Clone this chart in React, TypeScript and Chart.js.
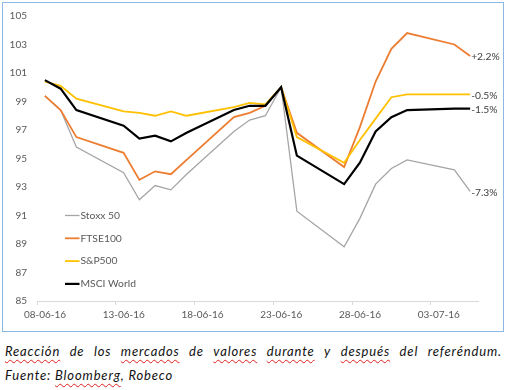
import React, { useEffect, useRef } from "react";
import { Chart, registerables } from "chart.js";

Chart.register(...registerables);

const dates = [
  "08-06-16", "09-06-16", "10-06-16", "13-06-16", "14-06-16", "15-06-16", "16-06-16",
  "17-06-16", "20-06-16", "21-06-16", "22-06-16", "23-06-16", "24-06-16", "27-06-16",
  "28-06-16", "29-06-16", "30-06-16", "01-07-16", "04-07-16", "05-07-16",
];
const seriesNames = ["Stoxx 50", "FTSE100", "S&P500", "MSCI World"];
const stoxx50 = [99.4, 98.4, 95.8, 94.0, 92.1, 93.1, 92.8, 93.9, 96.9, 97.7, 98.0, 100, 91.3, 88.8, 90.8, 93.2, 94.3, 94.9, 94.2, 92.7];
const ftse100 = [99.4, 98.4, 96.5, 95.4, 93.5, 94.1, 93.9, 94.9, 97.9, 98.2, 98.7, 100, 96.8, 94.4, 97.2, 100.4, 102.7, 103.8, 103.0, 102.2];
const sp500 = [100.4, 100.1, 99.2, 98.3, 98.2, 98.0, 98.3, 98.0, 98.6, 98.9, 98.8, 100, 96.5, 94.7, 96.3, 97.8, 99.3, 99.5, 99.5, 99.5];
const msciWorld = [100.5, 99.9, 98.4, 97.3, 96.4, 96.6, 96.2, 96.8, 98.4, 98.7, 98.7, 100, 95.2, 93.2, 94.7, 96.9, 97.9, 98.4, 98.5, 98.5];
const endLabels = ["-7.3%", "+2.2%", "-0.5%", "-1.5%"];
const yTicks = [85, 87, 89, 91, 93, 95, 97, 99, 101, 103, 105];
const xTickDays = [0, 5, 10, 15, 20, 25];

const colors = ["#A5A5A5", "#ED7D31", "#FFC000", "#000000"];
const widths = [1.3, 1.8, 1.8, 2.2];

const parseDate = (s: string) => {
  const [d, m, y] = s.split("-").map(Number);
  return Date.UTC(2000 + y, m - 1, d);
};
const DAY = 86400000;
const base = parseDate(dates[0]);
const dayOffset = (s: string) => (parseDate(s) - base) / DAY;
const fmt = (v: number) => {
  const dt = new Date(base + v * DAY);
  const dd = String(dt.getUTCDate()).padStart(2, "0");
  const mm = String(dt.getUTCMonth() + 1).padStart(2, "0");
  const yy = String(dt.getUTCFullYear() % 100).padStart(2, "0");
  return `${dd}-${mm}-${yy}`;
};

const FONT = "Lato, 'Open Sans', sans-serif";

const overlayPlugin = {
  id: "overlay",
  afterDatasetsDraw(chart: any) {
    const ctx = chart.ctx;
    ctx.save();
    ctx.font = `10.3px ${FONT}`;
    ctx.fillStyle = "#404040";
    ctx.textAlign = "left";
    ctx.textBaseline = "middle";
    chart.data.datasets.forEach((ds: any, i: number) => {
      const meta = chart.getDatasetMeta(i);
      const pt = meta.data[meta.data.length - 1];
      if (pt) ctx.fillText(ds.endLabel, pt.x + 1, pt.y + 1);
    });
    // legend
    const { left, top } = chart.chartArea;
    const lx = left + 28;
    const ly = top + 199.5;
    chart.data.datasets.forEach((ds: any, i: number) => {
      const y = ly + i * 22.8;
      ctx.strokeStyle = ds.borderColor;
      ctx.lineWidth = ds.borderWidth;
      ctx.beginPath();
      ctx.moveTo(lx, y);
      ctx.lineTo(lx + 14.5, y);
      ctx.stroke();
      ctx.fillStyle = "#595959";
      ctx.fillText(ds.label, lx + 15.5, y);
    });
    ctx.restore();
  },
};

function ChartView() {
  const ref = useRef<HTMLCanvasElement>(null);
  useEffect(() => {
    if (!ref.current) return;
    const all = [stoxx50, ftse100, sp500, msciWorld];
    const chart = new Chart(ref.current, {
      type: "line",
      data: {
        datasets: all.map((vals, i) => ({
          label: seriesNames[i],
          endLabel: endLabels[i],
          data: vals.map((v, j) => ({ x: dayOffset(dates[j]) + 0.5, y: v })),
          borderColor: colors[i],
          backgroundColor: colors[i],
          borderWidth: widths[i],
          pointRadius: 0,
          tension: 0,
          order: 3 - i,
        })) as any,
      },
      options: {
        animation: false,
        responsive: false,
        maintainAspectRatio: false,
        layout: { padding: { left: 0, right: 30, top: 15, bottom: 0 } },
        plugins: { legend: { display: false }, tooltip: { enabled: false } },
        scales: {
          x: {
            type: "linear",
            min: 0,
            max: 28,
            afterBuildTicks: (s: any) => {
              s.ticks = xTickDays.map((v) => ({ value: v }));
            },
            afterFit: (s: any) => {
              s.height = 29;
            },
            ticks: {
              color: "#595959",
              font: { family: FONT, size: 10 },
              padding: 4,
              labelOffset: 8,
              maxRotation: 0,
              autoSkip: false,
              callback: (v: any) => fmt(Number(v)),
            },
            grid: { drawOnChartArea: false, drawTicks: true, tickLength: 4, color: "#D9D9D9" },
            border: { display: true, color: "#D9D9D9" },
          },
          y: {
            min: 85,
            max: 105,
            afterBuildTicks: (s: any) => {
              s.ticks = yTicks.map((v) => ({ value: v }));
            },
            afterFit: (s: any) => {
              s.width = 37;
            },
            ticks: {
              color: "#595959",
              font: { family: FONT, size: 10 },
              padding: 10,
              autoSkip: false,
            },
            grid: { display: false, drawTicks: false },
            border: { display: false },
          },
        },
      } as any,
      plugins: [overlayPlugin],
    });
    return () => chart.destroy();
  }, []);
  return (
    <canvas
      ref={ref}
      width={508}
      height={330}
      style={{ position: "absolute", left: 0, top: 0, width: 508, height: 330 }}
    />
  );
}

const sp = (w: string) => (
  <span
    style={{
      textDecorationLine: "underline",
      textDecorationStyle: "wavy",
      textDecorationColor: "#E02020",
      textDecorationThickness: "1px",
      textUnderlineOffset: "3px",
    }}
  >
    {w}
  </span>
);

export default function App() {
  useEffect(() => {
    document.body.style.margin = "0";
  }, []);
  const capStyle: React.CSSProperties = {
    position: "absolute",
    left: 5,
    width: 497,
    fontFamily: FONT,
    fontStyle: "italic",
    fontSize: 13,
    letterSpacing: "0.85px",
    lineHeight: "16px",
    color: "#111",
    whiteSpace: "nowrap",
  };
  return (
    <div style={{ position: "absolute", left: 0, top: 0, width: 508, height: 390, background: "#fff", overflow: "hidden" }}>
      <div
        style={{
          position: "absolute",
          left: 2,
          top: 2,
          width: 500,
          height: 328,
          border: "1.5px solid #8DB8E6",
        }}
      />
      <ChartView />
      <div style={{ ...capStyle, top: 343, display: "flex", justifyContent: "space-between" }}>
        {sp("Reacción")}<span>de</span><span>los</span>{sp("mercados")}<span>de</span>{sp("valores")}
        {sp("durante")}<span>y</span>{sp("después")}<span>del</span><span>referéndum.</span>
      </div>
      <div style={{ ...capStyle, top: 367 }}>
        Fuente: {sp("Bloomberg")}, Robeco
      </div>
    </div>
  );
}
